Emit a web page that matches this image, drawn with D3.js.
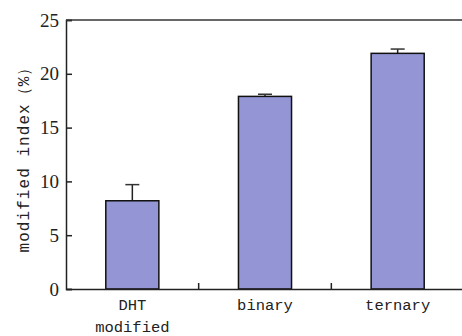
<!DOCTYPE html>
<html>
<head>
<meta charset="utf-8">
<script src="https://cdn.jsdelivr.net/npm/d3@7"></script>
<style>
body { margin: 0; background: #fff; }
svg { display: block; }
.yax text { font-family: 'Liberation Serif', serif; font-size: 19px; }
.xax text { font-family: 'Liberation Mono', monospace; font-size: 15.5px; }
</style>
</head>
<body>
<svg id="chart" width="462" height="336"></svg>
<script>
var categories = ["DHT modified", "binary", "ternary"];
var values = [8.2, 17.9, 21.9];
var errors = [1.5, 0.2, 0.4];
var yTicks = [0, 5, 10, 15, 20, 25];

var margin = {top: 20, right: -2, bottom: 47, left: 66},
    width = 462 - margin.left - margin.right,
    height = 336 - margin.top - margin.bottom;

var svg = d3.select("#chart");
var g = svg.append("g").attr("transform", "translate(" + margin.left + "," + margin.top + ")");

var x = d3.scaleBand()
    .domain(categories)
    .range([0, width])
    .paddingInner(0.6)
    .paddingOuter(0.3);

var y = d3.scaleLinear()
    .domain([0, 25])
    .range([height, 0]);

var dati = categories.map(function(c, i) {
    return {cat: c, val: values[i], err: errors[i]};
});

// error bars (drawn first, bar covers lower part)
g.selectAll("line.err").data(dati).enter()
    .append("line")
    .attr("class", "err")
    .attr("x1", function(d) { return x(d.cat) + x.bandwidth() / 2; })
    .attr("x2", function(d) { return x(d.cat) + x.bandwidth() / 2; })
    .attr("y1", function(d) { return y(d.val); })
    .attr("y2", function(d) { return y(d.val + d.err); })
    .attr("stroke", "#222")
    .attr("stroke-width", 1.5);

g.selectAll("line.cap").data(dati).enter()
    .append("line")
    .attr("class", "cap")
    .attr("x1", function(d) { return x(d.cat) + x.bandwidth() / 2 - 7; })
    .attr("x2", function(d) { return x(d.cat) + x.bandwidth() / 2 + 7; })
    .attr("y1", function(d) { return y(d.val + d.err); })
    .attr("y2", function(d) { return y(d.val + d.err); })
    .attr("stroke", "#333")
    .attr("stroke-width", 1.5);

// bars
g.selectAll("rect.bar").data(dati).enter()
    .append("rect")
    .attr("class", "bar")
    .attr("x", function(d) { return x(d.cat); })
    .attr("y", function(d) { return y(d.val); })
    .attr("width", x.bandwidth())
    .attr("height", function(d) { return height - y(d.val); })
    .attr("fill", "#9395d5")
    .attr("stroke", "#111")
    .attr("stroke-width", 1.5);

// y axis
var yAxis = g.append("g")
    .attr("class", "yax")
    .call(d3.axisLeft(y).tickValues(yTicks).tickSize(-6).tickPadding(7));
yAxis.attr("font-family", null).attr("font-size", null);
yAxis.select(".domain").attr("stroke", "#222").attr("stroke-width", 1.5);
yAxis.selectAll(".tick line").attr("stroke", "#222").attr("stroke-width", 1.5);
yAxis.selectAll("text").attr("fill", "#222");

// top line
g.append("line")
    .attr("x1", 0).attr("x2", width)
    .attr("y1", 0).attr("y2", 0)
    .attr("stroke", "#333").attr("stroke-width", 1.5);

// x axis
var xAxis = g.append("g")
    .attr("class", "xax")
    .attr("transform", "translate(0," + height + ")")
    .call(d3.axisBottom(x).tickSize(0).tickPadding(10));
xAxis.attr("font-family", null).attr("font-size", null);
xAxis.select(".domain").attr("stroke", "#222").attr("stroke-width", 1.5);
xAxis.selectAll("text")
    .attr("fill", "#222")
    .each(function(d) {
        var words = d.split(" ");
        var t = d3.select(this).text(null);
        words.forEach(function(w, i) {
            t.append("tspan")
                .attr("x", 0)
                .attr("dy", i == 0 ? "0.71em" : "1.45em")
                .text(w);
        });
    });

// boundary ticks between categories
var bounds = categories.slice(1).map(function(c) {
    return x(c) - x.step() * x.paddingInner() / 2;
});
g.selectAll("line.btick").data(bounds).enter()
    .append("line")
    .attr("class", "btick")
    .attr("x1", function(d) { return d; })
    .attr("x2", function(d) { return d; })
    .attr("y1", height)
    .attr("y2", height - 6)
    .attr("stroke", "#222")
    .attr("stroke-width", 1.5);

// y label
svg.append("text")
    .attr("transform", "translate(29," + 156 + ") rotate(-90)")
    .attr("text-anchor", "middle")
    .style("font-family", "'Liberation Mono', monospace")
    .style("font-size", "16px")
    .attr("textLength", 193)
    .attr("lengthAdjust", "spacing")
    .attr("fill", "#222")
    .text("modified index\uff08%\uff09");
</script>
</body>
</html>
